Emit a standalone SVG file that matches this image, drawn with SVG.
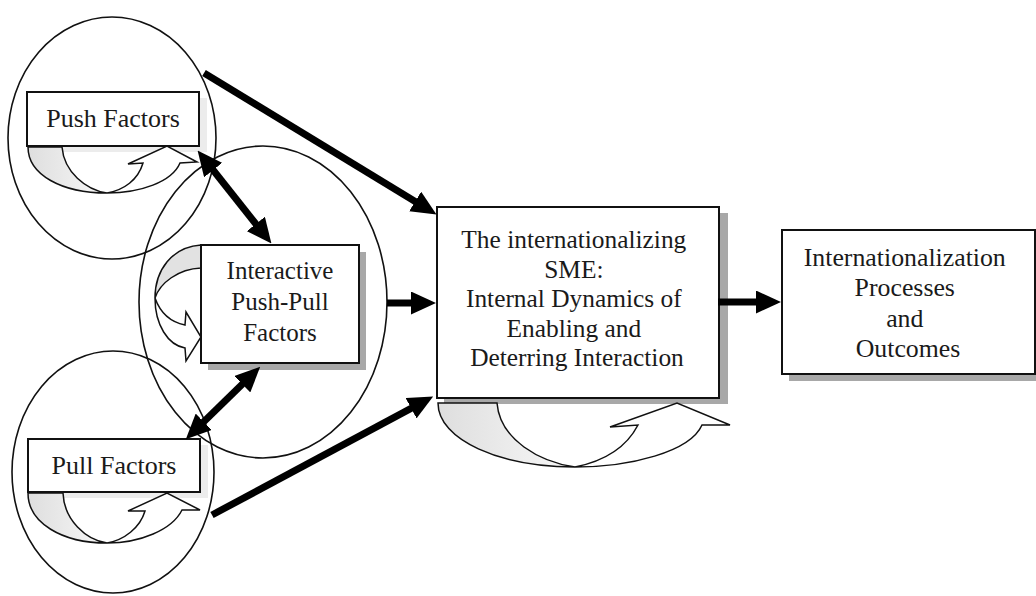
<svg xmlns="http://www.w3.org/2000/svg" width="1036" height="596" viewBox="0 0 1036 596">
  <style>
    .ring { fill: none; stroke: #111; stroke-width: 1.6; }
    .box { fill: #fff; stroke: #111; stroke-width: 2; }
    .shadow-dark { fill: #a8a8a8; }
    .shadow-light { fill: #ececec; }
    .band { stroke: #111; stroke-width: 1.5; stroke-linejoin: miter; }
    .band-front { fill: #fff; }
    .label { font-family: "Liberation Serif", "Times New Roman", serif; fill: #1a1a1a; text-anchor: middle; }
    .conn { stroke: #000; stroke-width: 7; fill: none; }
  </style>
  <defs>
    <marker id="head" viewBox="0 0 25 23" markerWidth="25" markerHeight="23" refX="1" refY="11.5" orient="auto-start-reverse" markerUnits="userSpaceOnUse">
      <path d="M0,0 L25,11.5 L0,23 Z" fill="#000"/>
    </marker>
    <linearGradient id="backFill" x1="0" y1="0" x2="1" y2="0">
      <stop offset="0" stop-color="#dedede"/>
      <stop offset="1" stop-color="#f8f8f8"/>
    </linearGradient>
  </defs>

  <rect width="1036" height="596" fill="#fff"/>

  <!-- factor rings -->
  <g id="rings">
    <ellipse class="ring" cx="112" cy="138" rx="104" ry="121"/>
    <ellipse class="ring" cx="263" cy="302" rx="124" ry="156"/>
    <ellipse class="ring" cx="113" cy="472" rx="101" ry="121"/>
  </g>

  <!-- Push Factors -->
  <g id="push-factors">
    <rect class="shadow-light" x="33" y="98" width="174" height="54"/>
    <path class="band" fill="url(#backFill)" d="M28,147 C28,175 62,193 107,193 C86,190 64,172 62,147 Z"/>
    <path class="band band-front" d="M107,193 C140,193 172,182 180,163 L197,162 L167,146 L128,164 L143,163 C138,180 124,190 107,193 Z"/>
    <rect class="box" x="27" y="92" width="172" height="54"/>
    <text class="label" x="113" y="127" font-size="26">Push Factors</text>
  </g>

  <!-- Interactive Push-Pull Factors -->
  <g id="interactive-factors">
    <rect class="shadow-dark" x="208" y="252" width="158" height="118"/>
    <path class="band" fill="#e2e2e2" d="M201,245 C172,247 155,270 155,298 C160,283 178,269 201,268 Z"/>
    <path class="band band-front" d="M155,298 C155,325 168,345 185,348 L186,361 L201,337 L186,312 L185,325 C170,322 160,312 155,298 Z"/>
    <rect class="box" x="201" y="245" width="158" height="118"/>
    <text class="label" font-size="25"><tspan x="280" y="279">Interactive</tspan><tspan x="280" y="310">Push-Pull</tspan><tspan x="280" y="341">Factors</tspan></text>
  </g>

  <!-- Pull Factors -->
  <g id="pull-factors">
    <rect class="shadow-light" x="34" y="445" width="174" height="53"/>
    <path class="band" fill="url(#backFill)" d="M28,493 C28,523 62,543 107,543 C86,540 64,520 63,493 Z"/>
    <path class="band band-front" d="M107,543 C140,543 172,530 182,510 L200,510 L167,493 L128,511 L145,511 C140,528 124,540 107,543 Z"/>
    <rect class="box" x="28" y="439" width="172" height="53"/>
    <text class="label" x="114" y="474" font-size="26">Pull Factors</text>
  </g>

  <!-- The internationalizing SME -->
  <g id="sme">
    <rect class="shadow-dark" x="444" y="213" width="284" height="191"/>
    <path class="band" fill="url(#backFill)" d="M438,403 C438,440 500,467 575,467 C540,462 500,440 497,403 Z"/>
    <path class="band band-front" d="M575,467 C630,467 690,452 702,425 L730,425 L677,403 L610,427 L638,425 C625,450 600,462 575,467 Z"/>
    <rect class="box" x="437" y="207" width="282" height="191"/>
    <text class="label" font-size="25.4">
      <tspan x="577" y="248">The internationalizing</tspan>
      <tspan x="577" y="277.5">SME:</tspan>
      <tspan x="577" y="307">Internal Dynamics of</tspan>
      <tspan x="577" y="336.5">Enabling and</tspan>
      <tspan x="577" y="366">Deterring Interaction</tspan>
    </text>
  </g>

  <!-- Internationalization Processes and Outcomes -->
  <g id="outcomes">
    <rect class="shadow-dark" x="789" y="237" width="247" height="144"/>
    <rect class="box" x="782" y="230" width="253" height="144"/>
    <text class="label" font-size="25.8">
      <tspan x="908" y="266">Internationalization</tspan>
      <tspan x="908" y="296">Processes</tspan>
      <tspan x="908" y="327">and</tspan>
      <tspan x="908" y="357">Outcomes</tspan>
    </text>
  </g>

  <!-- connectors -->
  <g id="connectors">
    <line class="conn" x1="204" y1="73" x2="416" y2="202" marker-end="url(#head)"/>
    <line class="conn" x1="212.5" y1="169.3" x2="256.5" y2="224.7" marker-start="url(#head)" marker-end="url(#head)"/>
    <line class="conn" x1="243" y1="383.5" x2="203" y2="422.5" marker-start="url(#head)" marker-end="url(#head)"/>
    <line class="conn" x1="212" y1="515" x2="412" y2="407.8" marker-end="url(#head)"/>
    <line class="conn" x1="387" y1="303" x2="412" y2="303" marker-end="url(#head)"/>
    <line class="conn" x1="718" y1="302" x2="757" y2="302" marker-end="url(#head)"/>
  </g>
</svg>
